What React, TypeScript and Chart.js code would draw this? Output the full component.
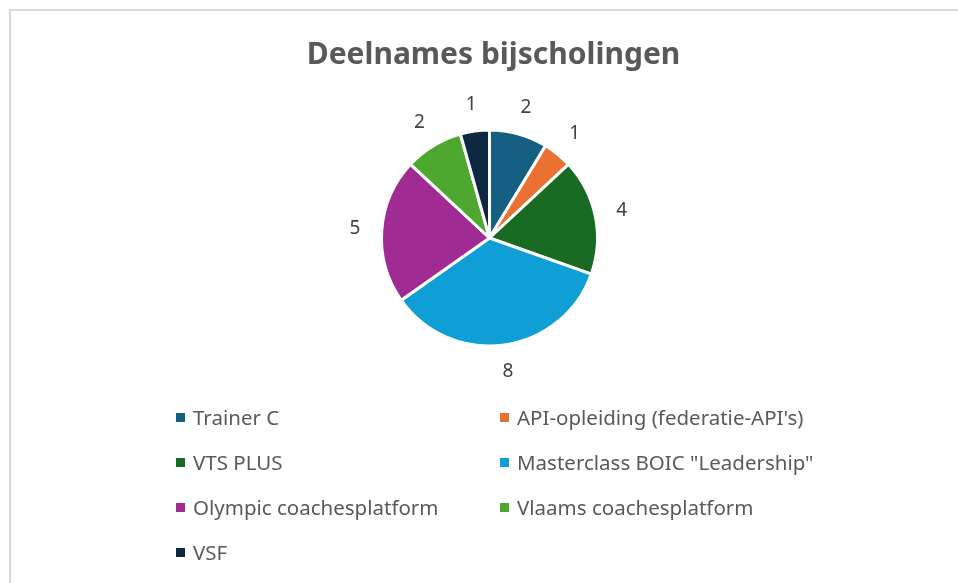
import React, { useEffect, useRef } from "react";
import { Chart, registerables } from "chart.js";

Chart.register(...registerables);

const categories = [
  "Trainer C",
  "API-opleiding (federatie-API's)",
  "VTS PLUS",
  'Masterclass BOIC "Leadership"',
  "Olympic coachesplatform",
  "Vlaams coachesplatform",
  "VSF",
];
const values = [2, 1, 4, 8, 5, 2, 1];
const colors = ["#156082", "#E97132", "#196B24", "#0F9ED5", "#A02B93", "#4EA72E", "#0E2841"];
const title = "Deelnames bijscholingen";

const FONT = "'Noto Sans', 'Open Sans', sans-serif";

const labelPlugin = {
  id: "outsideLabels",
  afterDatasetsDraw(chart: any) {
    const ctx = chart.ctx;
    const meta = chart.getDatasetMeta(0);
    ctx.save();
    ctx.font = `19px ${FONT}`;
    ctx.fillStyle = "#404040";
    ctx.textAlign = "center";
    ctx.textBaseline = "middle";
    meta.data.forEach((arc: any, i: number) => {
      const { x, y, startAngle, endAngle, outerRadius } = arc.getProps(
        ["x", "y", "startAngle", "endAngle", "outerRadius"],
        true
      );
      const mid = (startAngle + endAngle) / 2;
      const r = outerRadius + 27;
      ctx.fillText(String(chart.data.datasets[0].data[i]), x + Math.cos(mid) * r, y + Math.sin(mid) * r);
    });
    ctx.restore();
  },
};

export default function App() {
  const ref = useRef<HTMLCanvasElement>(null);
  useEffect(() => {
    document.body.style.margin = "0";
    const chart = new Chart(ref.current!, {
      type: "pie",
      data: {
        labels: categories,
        datasets: [
          {
            data: values,
            backgroundColor: colors,
            borderColor: "#ffffff",
            borderWidth: 3,
          },
        ],
      },
      options: {
        animation: false,
        responsive: false,
        layout: { padding: { left: 380, right: 359, top: 128, bottom: 235 } },
        plugins: {
          legend: { display: false },
          tooltip: { enabled: false },
          title: { display: false },
        },
      },
      plugins: [labelPlugin],
    });
    return () => chart.destroy();
  }, []);

  const legendPos = categories.map((c, i) => ({
    c,
    color: colors[i],
    left: i % 2 === 0 ? 176 : 500,
    top: 417 + Math.floor(i / 2) * 45,
  }));

  return (
    <div style={{ position: "relative", width: 958, height: 583, background: "#fff", overflow: "hidden", fontFamily: FONT }}>
      <div
        style={{
          position: "absolute",
          left: 9,
          top: 9,
          width: 960,
          height: 590,
          borderLeft: "2px solid #d9d9d9",
          borderTop: "2px solid #d9d9d9",
        }}
      />
      <canvas ref={ref} width={958} height={583} style={{ position: "absolute", left: 0, top: 0 }} />
      <div
        style={{
          position: "absolute",
          left: 0,
          width: 987,
          top: 53,
          transform: "translateY(-50%)",
          textAlign: "center",
          fontSize: 30,
          fontWeight: 700,
          color: "#595959",
          lineHeight: "40px",
        }}
      >
        {title}
      </div>
      {legendPos.map((l) => (
        <div
          key={l.c}
          style={{
            position: "absolute",
            left: l.left,
            top: l.top,
            transform: "translateY(-50%)",
            display: "flex",
            alignItems: "center",
            fontSize: 20.5,
            color: "#595959",
            whiteSpace: "nowrap",
            lineHeight: "28px",
          }}
        >
          <span style={{ display: "inline-block", width: 9, height: 9, background: l.color, marginRight: 8 }} />
          <span>{l.c}</span>
        </div>
      ))}
    </div>
  );
}
